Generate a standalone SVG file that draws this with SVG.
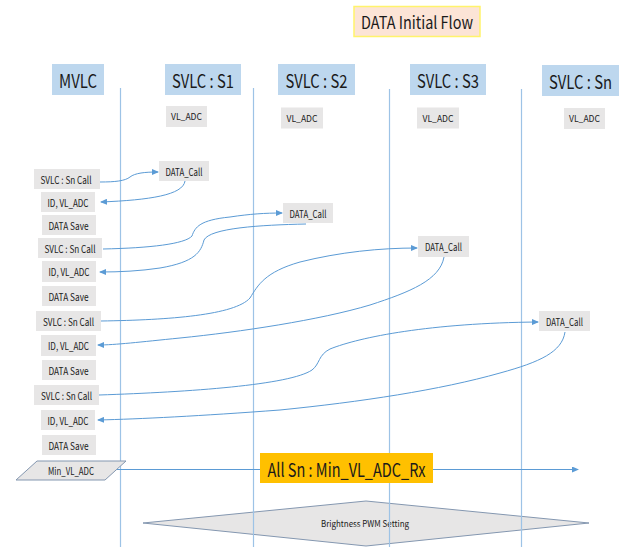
<svg xmlns="http://www.w3.org/2000/svg" width="626" height="547" viewBox="0 0 626 547">
<style>
text{font-family:"Noto Sans CJK KR","Noto Sans",sans-serif;fill:#1a1a1a;text-anchor:middle;dominant-baseline:central}
.hdr{fill:#BDD7EE}
.gb{fill:#E7E6E6}
.life{stroke:#9DC3E6;stroke-width:1.2;fill:none}
.conn{stroke:#5B9BD5;stroke-width:1;fill:none}
.h{font-size:18px}
.s{font-size:10.5px}
.xs{font-size:9px}
.shape{fill:#E7E6E6;stroke:#8497B0;stroke-width:1}
</style>
<defs>
<marker id="ah" markerWidth="7" markerHeight="6" refX="6" refY="3" orient="auto" markerUnits="userSpaceOnUse">
<path d="M0,0 L7,3 L0,6 Z" fill="#5B9BD5"/>
</marker>
</defs>
<rect width="626" height="547" fill="#ffffff"/>

<g id="title">
<rect x="354" y="6.5" width="126" height="30" fill="#FCE4D6" stroke="#FFF36B" stroke-width="1.5"/>
<text x="417" y="21.5" font-size="17" textLength="112" lengthAdjust="spacingAndGlyphs">DATA Initial Flow</text>
</g>

<g id="diamond-node">
<polygon class="shape" points="143,523 366,501 589,523 366,546"/>
<text class="xs" x="365" y="523" textLength="88" lengthAdjust="spacingAndGlyphs">Brightness PWM Setting</text>
</g>

<g id="lifelines">
<line class="life" x1="120.5" y1="88" x2="120.5" y2="547"/>
<line class="life" x1="253.5" y1="88" x2="253.5" y2="547"/>
<line class="life" x1="389.5" y1="89" x2="389.5" y2="547"/>
<line class="life" x1="521.5" y1="89" x2="521.5" y2="547"/>
</g>

<g id="hdr-mvlc"><rect class="hdr" x="52" y="64" width="52" height="31"/><text class="h" x="78" y="79.5" textLength="38" lengthAdjust="spacingAndGlyphs">MVLC</text></g>
<g id="hdr-s1"><rect class="hdr" x="165" y="64" width="76" height="31"/><text class="h" x="203" y="79.5" textLength="62" lengthAdjust="spacingAndGlyphs">SVLC : S1</text></g>
<g id="hdr-s2"><rect class="hdr" x="278" y="64" width="77" height="31"/><text class="h" x="316.5" y="79.5" textLength="62" lengthAdjust="spacingAndGlyphs">SVLC : S2</text></g>
<g id="hdr-s3"><rect class="hdr" x="410" y="64" width="76" height="31"/><text class="h" x="448" y="79.5" textLength="62" lengthAdjust="spacingAndGlyphs">SVLC : S3</text></g>
<g id="hdr-sn"><rect class="hdr" x="542" y="65" width="77" height="31"/><text class="h" x="580.5" y="80.5" textLength="63" lengthAdjust="spacingAndGlyphs">SVLC : Sn</text></g>

<g id="vl-s1"><rect class="gb" x="166" y="106" width="41" height="21"/><text class="xs" x="186.5" y="116.5" textLength="31" lengthAdjust="spacingAndGlyphs">VL_ADC</text></g>
<g id="vl-s2"><rect class="gb" x="281" y="107.5" width="42" height="21"/><text class="xs" x="302" y="118" textLength="31" lengthAdjust="spacingAndGlyphs">VL_ADC</text></g>
<g id="vl-s3"><rect class="gb" x="417" y="107.5" width="42" height="21"/><text class="xs" x="438" y="118" textLength="31" lengthAdjust="spacingAndGlyphs">VL_ADC</text></g>
<g id="vl-sn"><rect class="gb" x="564" y="108" width="41" height="21"/><text class="xs" x="584.5" y="118.5" textLength="31" lengthAdjust="spacingAndGlyphs">VL_ADC</text></g>

<g id="call-1"><rect class="gb" x="34" y="169" width="66" height="20"/><text class="s" x="66" y="179" textLength="51" lengthAdjust="spacingAndGlyphs">SVLC : Sn Call</text></g>
<g id="id-1"><rect class="gb" x="41" y="192" width="54" height="20"/><text class="s" x="68" y="202" textLength="41" lengthAdjust="spacingAndGlyphs">ID, VL_ADC</text></g>
<g id="save-1"><rect class="gb" x="42" y="215" width="54" height="20"/><text class="s" x="68.5" y="225" textLength="40" lengthAdjust="spacingAndGlyphs">DATA Save</text></g>
<g id="call-2"><rect class="gb" x="38" y="238" width="64" height="20"/><text class="s" x="70" y="248" textLength="51" lengthAdjust="spacingAndGlyphs">SVLC : Sn Call</text></g>
<g id="id-2"><rect class="gb" x="42" y="261" width="54" height="21"/><text class="s" x="69" y="271.5" textLength="41" lengthAdjust="spacingAndGlyphs">ID, VL_ADC</text></g>
<g id="save-2"><rect class="gb" x="42" y="286" width="54" height="20"/><text class="s" x="68.5" y="296" textLength="40" lengthAdjust="spacingAndGlyphs">DATA Save</text></g>
<g id="call-3"><rect class="gb" x="36" y="311" width="65" height="20"/><text class="s" x="68.5" y="321" textLength="51" lengthAdjust="spacingAndGlyphs">SVLC : Sn Call</text></g>
<g id="id-3"><rect class="gb" x="41" y="335" width="55" height="21"/><text class="s" x="68.5" y="345.5" textLength="41" lengthAdjust="spacingAndGlyphs">ID, VL_ADC</text></g>
<g id="save-3"><rect class="gb" x="42" y="360" width="54" height="20"/><text class="s" x="68.5" y="370" textLength="40" lengthAdjust="spacingAndGlyphs">DATA Save</text></g>
<g id="call-4"><rect class="gb" x="34" y="385" width="65" height="20"/><text class="s" x="66.5" y="395" textLength="51" lengthAdjust="spacingAndGlyphs">SVLC : Sn Call</text></g>
<g id="id-4"><rect class="gb" x="41" y="410" width="54" height="20"/><text class="s" x="68" y="420" textLength="41" lengthAdjust="spacingAndGlyphs">ID, VL_ADC</text></g>
<g id="save-4"><rect class="gb" x="42" y="435" width="54" height="20"/><text class="s" x="68.5" y="445" textLength="40" lengthAdjust="spacingAndGlyphs">DATA Save</text></g>

<g id="dc-s1"><rect class="gb" x="159" y="161" width="50" height="20"/><text class="s" x="184" y="171" textLength="37" lengthAdjust="spacingAndGlyphs">DATA_Call</text></g>
<g id="dc-s2"><rect class="gb" x="283" y="203" width="50" height="20"/><text class="s" x="308" y="213" textLength="37" lengthAdjust="spacingAndGlyphs">DATA_Call</text></g>
<g id="dc-s3"><rect class="gb" x="418" y="236" width="51" height="21"/><text class="s" x="443.5" y="246.5" textLength="37" lengthAdjust="spacingAndGlyphs">DATA_Call</text></g>
<g id="dc-sn"><rect class="gb" x="539" y="311" width="51" height="20"/><text class="s" x="564.5" y="321" textLength="37" lengthAdjust="spacingAndGlyphs">DATA_Call</text></g>

<g id="connectors">
<path class="conn" marker-end="url(#ah)" d="M100,182 C115,182 125,181 130,177 C135,173 145,172 158,172"/>
<path class="conn" marker-end="url(#ah)" d="M185,181 C183,195 150,200 101,202"/>
<path class="conn" marker-end="url(#ah)" d="M103,249 C150,248 185,244 192,236 C195,227 200,220 230,217 C250,214 265,213 282,213"/>
<path class="conn" marker-end="url(#ah)" d="M306,224 C260,225 210,228 204,240 C201,252 195,262 160,268 C140,271 120,272 100,272"/>
<path class="conn" marker-end="url(#ah)" d="M101,321 C170,320 235,315 250,298 C258,285 265,272 300,262 C340,252 380,248 417,248"/>
<path class="conn" marker-end="url(#ah)" d="M444,257 C440,280 410,292 370,305 C320,320 240,332 180,338 C140,342 115,345 98,345"/>
<path class="conn" marker-end="url(#ah)" d="M99,395 C190,392 290,385 312,370 C320,364 318,355 330,349 C360,337 430,323 538,322"/>
<path class="conn" marker-end="url(#ah)" d="M565,332 C562,352 540,362 500,373 C440,390 360,402 280,410 C200,416 140,419 98,420"/>
<path class="conn" marker-end="url(#ah)" d="M117,469.5 L578,469.5"/>
</g>

<g id="min-node">
<polygon class="shape" points="37,461 126,461 105,480 16,480"/>
<text x="71" y="470.5" font-size="10" textLength="46" lengthAdjust="spacingAndGlyphs">Min_VL_ADC</text>
</g>

<g id="rx-node">
<rect x="260" y="453" width="173" height="30" fill="#FFC000"/>
<text x="346.5" y="468" font-size="19" textLength="158" lengthAdjust="spacingAndGlyphs">All Sn : Min_VL_ADC_Rx</text>
</g>
</svg>
